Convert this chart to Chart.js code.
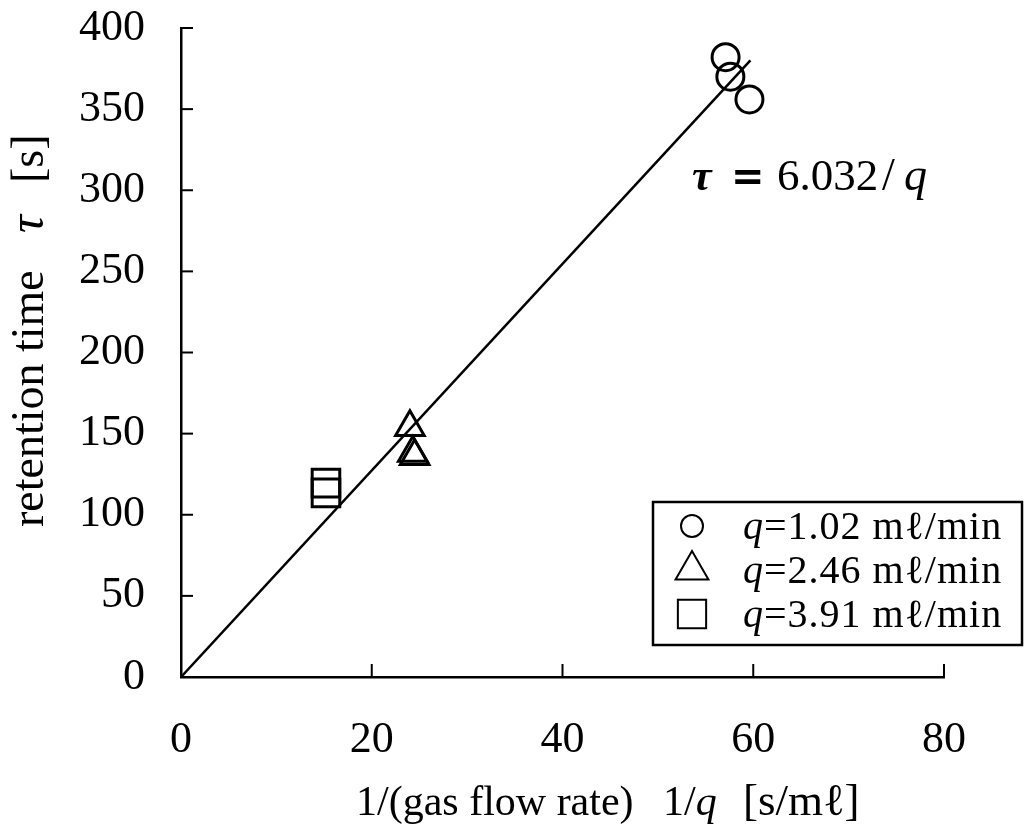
<!DOCTYPE html>
<html>
<head>
<meta charset="utf-8">
<script src="https://cdn.jsdelivr.net/npm/chart.js@4.4.1/dist/chart.umd.min.js"></script>
<style>
  html, body { margin: 0; padding: 0; background: #fff; }
  #wrap { width: 1033px; height: 831px; }
</style>
</head>
<body>
<div id="wrap"><canvas id="retentionChart"></canvas></div>
<script>
// retention time tau [s] against 1/q [s/ml]
const xTicks = [0, 20, 40, 60, 80];
const yTicks = [0, 50, 100, 150, 200, 250, 300, 350, 400];

const q102X = [57.1, 57.6, 59.6];
const q102Y = [382, 370, 356];
const q246X = [24.0, 24.3, 24.5];
const q246Y = [154, 138, 136];
const q391X = [15.2, 15.2];
const q391Y = [119.5, 113.5];

// fitted line tau = 6.032/q as drawn on the figure
const fitX = [0, 59.7];
const fitY = [0, 380];

const seriesLabels = ['=1.02 m\u2113/min', '=2.46 m\u2113/min', '=3.91 m\u2113/min'];

const SERIF = '"Liberation Serif", "DejaVu Serif", serif';
Chart.defaults.font.family = SERIF;
Chart.defaults.color = '#000';

const toPoints = (xs, ys) => xs.map((x, i) => ({ x: x, y: ys[i] }));

// draw a row of text pieces, each with its own font
const drawRuns = (ctx, runs, x, y) => {
  runs.forEach(r => {
    ctx.font = r.font;
    const px = r.x !== undefined ? r.x : x;
    ctx.fillText(r.text, px, y);
    x = px + ctx.measureText(r.text).width;
  });
};

const decorPlugin = {
  id: 'decor',
  afterDraw(chart) {
    const ctx = chart.ctx;
    const xs = chart.scales.x;
    const ys = chart.scales.y;
    const area = chart.chartArea;
    ctx.save();
    ctx.strokeStyle = '#000';
    ctx.fillStyle = '#000';
    ctx.lineWidth = 2;

    // inward tick marks
    xTicks.slice(1).forEach(v => {
      const px = xs.getPixelForValue(v);
      ctx.beginPath();
      ctx.moveTo(px, area.bottom);
      ctx.lineTo(px, area.bottom - 13);
      ctx.stroke();
    });
    yTicks.slice(1).forEach(v => {
      const py = ys.getPixelForValue(v);
      ctx.beginPath();
      ctx.moveTo(area.left, py);
      ctx.lineTo(area.left + 12, py);
      ctx.stroke();
    });

    ctx.textAlign = 'left';
    ctx.textBaseline = 'alphabetic';

    // x axis title
    drawRuns(ctx, [
      { text: '1/(gas flow rate)', font: '42px ' + SERIF, x: 356 },
      { text: '1/', font: '42px ' + SERIF, x: 663 },
      { text: 'q', font: 'italic 42px ' + SERIF },
      { text: '[s/m\u2113]', font: '45px ' + SERIF, x: 743 }
    ], 356, 815);

    // y axis title
    ctx.save();
    ctx.translate(43, 527);
    ctx.rotate(-Math.PI / 2);
    drawRuns(ctx, [
      { text: 'retention time', font: '46px ' + SERIF, x: 0 },
      { text: '\u03c4', font: 'italic 50px ' + SERIF, x: 294 },
      { text: '[s]', font: '46px ' + SERIF, x: 344 }
    ], 0, 0);
    ctx.restore();

    // equation of the fitted line
    drawRuns(ctx, [
      { text: '\u03c4', font: 'italic bold 44px ' + SERIF, x: 692 },
      { text: '=', font: 'bold 40px "DejaVu Sans", sans-serif', x: 731 },
      { text: '6.032', font: '45px ' + SERIF, x: 777 },
      { text: '/', font: '46px ' + SERIF, x: 882 },
      { text: 'q', font: 'italic 46px ' + SERIF, x: 904 }
    ], 692, 190);

    // legend box
    ctx.lineWidth = 2.5;
    ctx.strokeRect(653, 502, 369, 143);
    const rowY = [526, 570, 614];
    chart.data.datasets.filter(ds => ds.legendRadius).forEach((ds, i) => {
      ctx.lineWidth = 2;
      ctx.fillStyle = 'rgba(0,0,0,0)';
      Chart.helpers.drawPoint(ctx, {
        pointStyle: ds.pointStyle,
        radius: ds.legendRadius,
        borderWidth: 2,
        rotation: 0
      }, 692, rowY[i]);
      ctx.fillStyle = '#000';
      ctx.letterSpacing = '1px';
      drawRuns(ctx, [
        { text: 'q', font: 'italic 40px ' + SERIF, x: 743 },
        { text: seriesLabels[i], font: '40px ' + SERIF }
      ], 743, rowY[i] + 13);
      ctx.letterSpacing = '0px';
    });
    ctx.restore();
  }
};

const markerDefaults = {
  type: 'scatter',
  showLine: false,
  pointBackgroundColor: 'rgba(0,0,0,0)',
  pointBorderColor: '#000',
  pointBorderWidth: 3,
  pointHoverRadius: 0
};

new Chart(document.getElementById('retentionChart'), {
  data: {
    datasets: [
      Object.assign({}, markerDefaults, {
        label: seriesLabels[0], data: toPoints(q102X, q102Y),
        pointStyle: 'circle', pointRadius: 13.5, legendRadius: 11
      }),
      Object.assign({}, markerDefaults, {
        label: seriesLabels[1], data: toPoints(q246X, q246Y),
        pointStyle: 'triangle', pointRadius: 16.5, legendRadius: 19
      }),
      Object.assign({}, markerDefaults, {
        label: seriesLabels[2], data: toPoints(q391X, q391Y),
        pointStyle: 'rect', pointRadius: 19.5, legendRadius: 20
      }),
      {
        type: 'line',
        label: 'fit',
        data: toPoints(fitX, fitY),
        borderColor: '#000',
        borderWidth: 2.5,
        pointRadius: 0,
        fill: false,
        tension: 0
      }
    ]
  },
  options: {
    responsive: true,
    maintainAspectRatio: false,
    animation: false,
    events: [],
    layout: { padding: { top: 28, right: 89, left: 0, bottom: 0 } },
    plugins: {
      legend: { display: false },
      tooltip: { enabled: false }
    },
    scales: {
      x: {
        type: 'linear',
        min: 0,
        max: 80,
        afterBuildTicks: s => { s.ticks = xTicks.map(v => ({ value: v })); },
        afterFit: s => { s.height = 154; s.paddingLeft = 0; s.paddingRight = 0; },
        grid: { display: false, drawTicks: false },
        border: { display: true, color: '#000', width: 2.5 },
        ticks: { color: '#000', font: { size: 44 }, padding: 37, maxRotation: 0 }
      },
      y: {
        type: 'linear',
        min: 0,
        max: 400,
        afterBuildTicks: s => { s.ticks = yTicks.map(v => ({ value: v })); },
        afterFit: s => { s.width = 181; s.paddingTop = 0; s.paddingBottom = 0; },
        grid: { display: false, drawTicks: false },
        border: { display: true, color: '#000', width: 2.5 },
        ticks: { color: '#000', font: { size: 44 }, padding: 36 }
      }
    }
  },
  plugins: [decorPlugin]
});
</script>
</body>
</html>
